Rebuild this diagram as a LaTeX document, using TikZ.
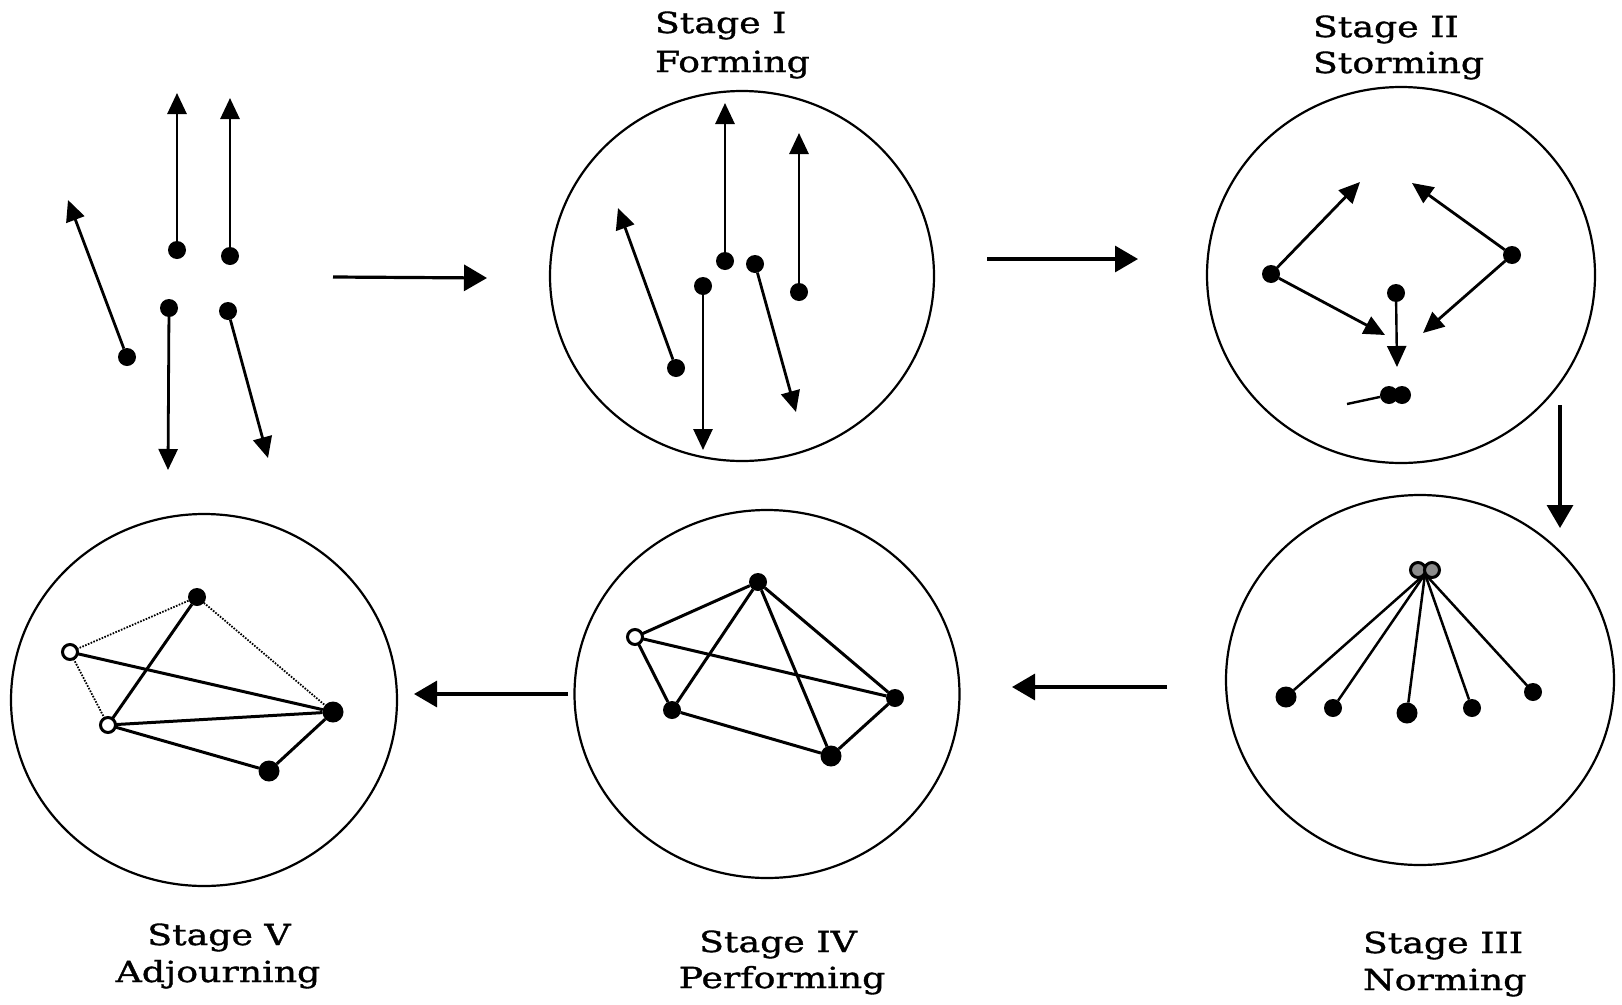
\documentclass[tikz,border=0pt]{standalone}
\usepackage{fontspec}
\setmainfont{DejaVu Serif}[FakeStretch=1.25,FakeBold=1.2]
\usetikzlibrary{arrows.meta,shapes.geometric}
\begin{document}
\begin{tikzpicture}[x=1pt,y=-1pt,
  every node/.style={inner sep=0pt, outer sep=0pt},
  stagering/.style={draw, ellipse, line width=2.2pt},
  dot/.style={circle, fill=black, minimum size=18pt},
  bigdot/.style={dot, minimum size=21pt},
  ring/.style={circle, draw=black, fill=white, line width=3pt, minimum size=15pt},
  hubring/.style={ring, fill=black!45},
  move/.style={line width=2.8pt, -{Triangle[length=21pt,width=19pt]}},
  flow/.style={line width=3.2pt, -{Triangle[length=23pt,width=26pt]}},
  tie/.style={line width=3pt},
  loose/.style={line width=1.8pt, dash pattern=on 1.6pt off 1.4pt},
  lbl/.style={font=\fontsize{29}{35}\selectfont}
]
\useasboundingbox (0,0) rectangle (1622,1004);

% ---------- stage circles ----------
\node[stagering, minimum width=384pt, minimum height=370pt] (c1) at (742,276) {};
\node[stagering, minimum width=388pt, minimum height=376pt] (c2) at (1401,275) {};
\node[stagering, minimum width=388pt, minimum height=370pt] (c3) at (1420,680) {};
\node[stagering, minimum width=385pt, minimum height=368pt] (c4) at (767,694) {};
\node[stagering, minimum width=386pt, minimum height=372pt] (c5) at (204,700) {};

% ---------- labels ----------
\node[lbl, anchor=base west] (l1a) at (655,33) {Stage I};
\node[lbl, anchor=base west] (l1b) at (655,72) {Forming};
\node[lbl, anchor=base west] (l2a) at (1313,37) {Stage II};
\node[lbl, anchor=base west] (l2b) at (1313,73) {Storming};
\node[lbl, anchor=base west] (l3a) at (1363,953) {Stage III};
\node[lbl, anchor=base west] (l3b) at (1363,990) {Norming};
\node[lbl, anchor=base] (l4a) at (778,952) {Stage IV};
\node[lbl, anchor=base] (l4b) at (782,988) {Performing};
\node[lbl, anchor=base] (l5a) at (219,945) {Stage V};
\node[lbl, anchor=base] (l5b) at (218,982) {Adjourning};

% ---------- individuals before the group forms ----------
\node[dot] (p1) at (177,250) {};
\node[dot] (p2) at (230,256) {};
\node[dot] (p3) at (127,357) {};
\node[dot] (p4) at (169,308) {};
\node[dot] (p5) at (228,311) {};
\coordinate (p1t) at (177,93);
\coordinate (p2t) at (230,98);
\coordinate (p3t) at (68,200);
\coordinate (p4t) at (168,470);
\coordinate (p5t) at (268,458);
\draw[move] (p1) -- (p1t);
\draw[move] (p2) -- (p2t);
\draw[move] (p3) -- (p3t);
\draw[move] (p4) -- (p4t);
\draw[move] (p5) -- (p5t);

% ---------- Stage I: forming ----------
\node[dot] (q1) at (725,261) {};
\node[dot] (q2) at (799,292) {};
\node[dot] (q3) at (676,368) {};
\node[dot] (q4) at (703,286) {};
\node[dot] (q5) at (755,264) {};
\coordinate (q1t) at (725,103);
\coordinate (q2t) at (799,133);
\coordinate (q3t) at (618,208);
\coordinate (q4t) at (703,450);
\coordinate (q5t) at (796,412);
\draw[move] (q1) -- (q1t);
\draw[move] (q2) -- (q2t);
\draw[move] (q3) -- (q3t);
\draw[move] (q4) -- (q4t);
\draw[move] (q5) -- (q5t);

% ---------- Stage II: storming ----------
\node[dot] (r1) at (1271,274) {};
\node[dot] (r2) at (1512,255) {};
\node[dot] (r3) at (1396,293) {};
\node[dot] (r4) at (1389,395) {};
\node[dot] (r5) at (1402,395) {};
\coordinate (r1a) at (1360,182);
\coordinate (r1b) at (1385,335);
\coordinate (r2a) at (1412,183);
\coordinate (r2b) at (1423,333);
\coordinate (r3t) at (1397,367);
\coordinate (r4s) at (1347,404);
\draw[move] (r1) -- (r1a);
\draw[move] (r1) -- (r1b);
\draw[move] (r2) -- (r2a);
\draw[move] (r2) -- (r2b);
\draw[move, line width=2.4pt] (r3) -- (r3t);
\draw[tie, line width=2.4pt] (r4s) -- (r4);

% ---------- Stage III: norming ----------
\node[bigdot] (s1) at (1286,697) {};
\node[dot] (s2) at (1333,708) {};
\node[bigdot] (s3) at (1407,713) {};
\node[dot] (s4) at (1472,708) {};
\node[dot] (s5) at (1533,692) {};
\coordinate (hub) at (1425,574);
\foreach \s in {s1,s2,s3,s4,s5} \draw[tie, line width=2.5pt] (hub) -- (\s);
\node[hubring] (h1) at (1418,570) {};
\node[hubring] (h2) at (1432,570) {};

% ---------- Stage IV: performing ----------
\node[dot] (t1) at (758,582) {};
\node[ring] (t2) at (635,637) {};
\node[dot] (t3) at (672,710) {};
\node[dot] (t4) at (895,698) {};
\node[bigdot] (t5) at (831,756) {};
\draw[tie] (t2) -- (t1);
\draw[tie] (t1) -- (t3);
\draw[tie] (t1) -- (t5);
\draw[tie] (t1) -- (t4);
\draw[tie] (t2) -- (t4);
\draw[tie] (t2) -- (t3);
\draw[tie] (t3) -- (t5);
\draw[tie] (t5) -- (t4);

% ---------- Stage V: adjourning ----------
\node[dot] (u1) at (197,597) {};
\node[ring] (u2) at (70,652) {};
\node[ring] (u3) at (108,725) {};
\node[bigdot] (u4) at (333,712) {};
\node[bigdot] (u5) at (269,771) {};
\draw[loose] (u2) -- (u1);
\draw[loose] (u1) -- (u4);
\draw[loose] (u2) -- (u3);
\draw[tie] (u1) -- (u3);
\draw[tie] (u2) -- (u4);
\draw[tie] (u3) -- (u4);
\draw[tie] (u3) -- (u5);
\draw[tie] (u5) -- (u4);

% ---------- progression between stages ----------
\coordinate (f1s) at (333,277);  \coordinate (f1e) at (487,278);
\coordinate (f2s) at (987,259);  \coordinate (f2e) at (1138,259);
\coordinate (f3s) at (1560,405); \coordinate (f3e) at (1560,528);
\coordinate (f4s) at (1167,687); \coordinate (f4e) at (1012,687);
\coordinate (f5s) at (568,694);  \coordinate (f5e) at (414,694);
\draw[flow] (f1s) -- (f1e);
\draw[flow] (f2s) -- (f2e);
\draw[flow] (f3s) -- (f3e);
\draw[flow] (f4s) -- (f4e);
\draw[flow] (f5s) -- (f5e);
\end{tikzpicture}
\end{document}
